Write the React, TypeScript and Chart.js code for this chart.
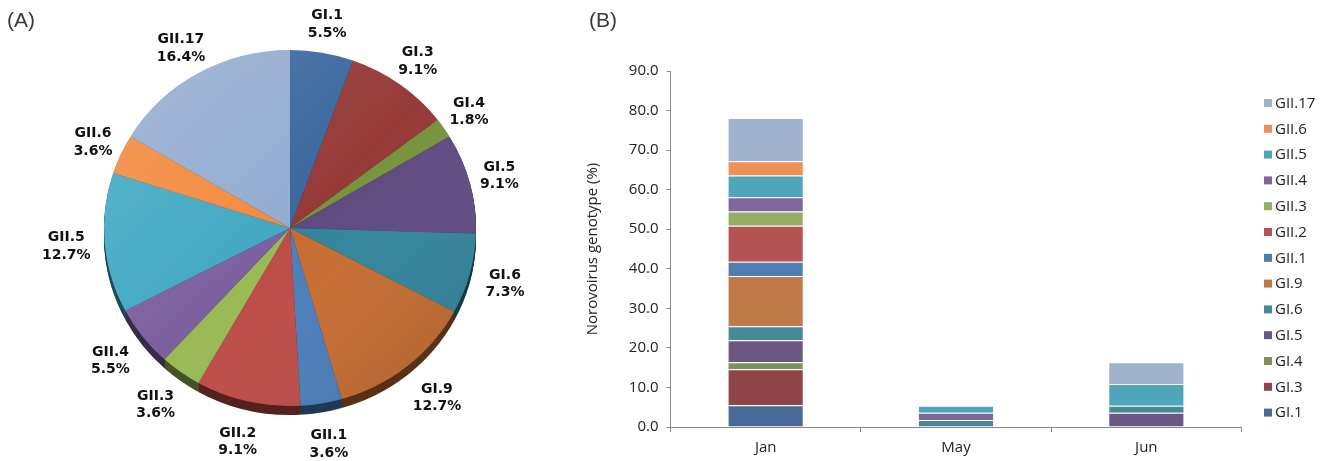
import React, { useEffect, useRef } from "react";
import { Chart, registerables } from "chart.js";

Chart.register(...registerables);

// ---------- data ----------
const genotypes = ["GI.1", "GI.3", "GI.4", "GI.5", "GI.6", "GI.9", "GII.1", "GII.2", "GII.3", "GII.4", "GII.5", "GII.6", "GII.17"];
const piePercents = [5.5, 9.1, 1.8, 9.1, 7.3, 12.7, 3.6, 9.1, 3.6, 5.5, 12.7, 3.6, 16.4];

const months = ["Jan", "May", "Jun"];
const gi1 = [5.5, null, null];
const gi3 = [9.1, null, null];
const gi4 = [1.8, null, null];
const gi5 = [5.5, null, 3.6];
const gi6 = [3.6, 1.8, 1.8];
const gi9 = [12.7, null, null];
const gii1 = [3.6, null, null];
const gii2 = [9.1, null, null];
const gii3 = [3.6, null, null];
const gii4 = [3.6, 1.8, null];
const gii5 = [5.5, 1.8, 5.5];
const gii6 = [3.6, null, null];
const gii17 = [10.9, null, 5.5];
const barSeries = [gi1, gi3, gi4, gi5, gi6, gi9, gii1, gii2, gii3, gii4, gii5, gii6, gii17];

const yMin = 0;
const yMax = 90;
const yStep = 10;
const yTitle = "Norovoirus genotype (%)";

// ---------- styles ----------
const pieColors = ["#3a679d", "#963a38", "#77933c", "#5f4a80", "#31859c", "#c66c30", "#4a7ebb", "#be4b48", "#98b954", "#7d60a0", "#42a8c4", "#f38a3e", "#93acd0"];
const barColors = ["#486a96", "#8f4549", "#7f9155", "#6a5783", "#488997", "#c17a47", "#4f7cb1", "#b65355", "#93ad65", "#7e679c", "#4fa5ba", "#ee8f54", "#9fb2ce"];

const PIE_SCALE_Y = 178 / 186;
const PIE_DEPTH = 9;

function shade(hex: string, f: number): string {
  const n = parseInt(hex.slice(1), 16);
  const r = Math.round(((n >> 16) & 255) * f);
  const g = Math.round(((n >> 8) & 255) * f);
  const b = Math.round((n & 255) * f);
  return `rgb(${r},${g},${b})`;
}

const pie3dPlugin = {
  id: "pie3d",
  beforeDatasetsDraw(chart: any) {
    const ctx = chart.ctx;
    const meta = chart.getDatasetMeta(0);
    if (!meta.data.length) return;
    const { x, y, outerRadius } = meta.data[0] as any;
    ctx.save();
    ctx.translate(x, y);
    ctx.scale(1, PIE_SCALE_Y);
    ctx.translate(-x, -y);
    // side wall
    for (let d = PIE_DEPTH; d >= 1; d--) {
      const off = d / PIE_SCALE_Y;
      meta.data.forEach((arc: any, i: number) => {
        ctx.beginPath();
        ctx.moveTo(x, y + off);
        ctx.arc(x, y + off, outerRadius, arc.startAngle, arc.endAngle);
        ctx.closePath();
        ctx.fillStyle = shade(pieColors[i], 0.45);
        ctx.fill();
      });
    }
  },
  afterDatasetsDraw(chart: any) {
    const ctx = chart.ctx;
    const meta = chart.getDatasetMeta(0);
    if (!meta.data.length) return;
    const { x, y, outerRadius: r } = meta.data[0] as any;
    const g = ctx.createLinearGradient(x - r, y - r, x + r, y + r);
    g.addColorStop(0, "rgba(255,255,255,0.16)");
    g.addColorStop(0.5, "rgba(255,255,255,0)");
    g.addColorStop(1, "rgba(0,0,0,0.16)");
    ctx.beginPath();
    ctx.arc(x, y, r, 0, Math.PI * 2);
    ctx.fillStyle = g;
    ctx.fill();
    ctx.restore();

    // labels
    ctx.save();
    ctx.font = "bold 14px 'DejaVu Sans'";
    ctx.fillStyle = "#111";
    ctx.textAlign = "center";
    ctx.textBaseline = "middle";
    const rx = r;
    const ry = r * PIE_SCALE_Y;
    const gap = 11;
    const lh = 17.5;
    meta.data.forEach((arc: any, i: number) => {
      const mid = (arc.startAngle + arc.endAngle) / 2;
      const c = Math.cos(mid);
      const s = Math.sin(mid);
      const l1 = genotypes[i];
      const l2 = piePercents[i].toFixed(1) + "%";
      const w = Math.max(ctx.measureText(l1).width, ctx.measureText(l2).width);
      const h = lh * 2;
      const lower = s > 0 ? s : 0;
      const extra = 4 * lower;
      const px = x + c * (rx + gap + extra);
      const py = y + s * (ry + gap + extra) + PIE_DEPTH * lower;
      const bx = px + c * (w / 2) + c * 10 * Math.sqrt(lower);
      const by = py + s * (h / 2);
      ctx.fillText(l1, bx, by - lh / 2);
      ctx.fillText(l2, bx, by + lh / 2);
    });
    ctx.restore();
  },
};

const legendPlugin = {
  id: "customLegend",
  afterDraw(chart: any) {
    const ctx = chart.ctx;
    ctx.save();
    ctx.font = "15px 'Open Sans'";
    ctx.textBaseline = "middle";
    ctx.textAlign = "left";
    const x0 = 704;
    const y0 = 103;
    const step = 25.8;
    const n = genotypes.length;
    for (let k = 0; k < n; k++) {
      const i = n - 1 - k;
      const yy = y0 + k * step;
      ctx.fillStyle = barColors[i];
      ctx.fillRect(x0, yy - 4, 8, 8);
      ctx.fillStyle = "#222";
      ctx.fillText(genotypes[i], x0 + 11, yy + 0.5);
    }
    ctx.restore();
  },
};

function PieChart() {
  const ref = useRef<HTMLCanvasElement>(null);
  useEffect(() => {
    if (!ref.current) return;
    const chart = new Chart(ref.current, {
      type: "pie",
      data: {
        labels: genotypes,
        datasets: [
          {
            data: piePercents,
            backgroundColor: pieColors,
            borderWidth: 0,
          },
        ],
      },
      options: {
        responsive: false,
        animation: false,
        rotation: 0,
        layout: { padding: { left: 104, right: 84, top: 42, bottom: 47 } },
        plugins: { legend: { display: false }, tooltip: { enabled: false } },
      },
      plugins: [pie3dPlugin],
    } as any);
    return () => chart.destroy();
  }, []);
  return <canvas ref={ref} width={560} height={461} style={{ position: "absolute", left: 0, top: 0, width: 560, height: 461 }} />;
}

function BarChart() {
  const ref = useRef<HTMLCanvasElement>(null);
  useEffect(() => {
    if (!ref.current) return;
    const font = { family: "'Open Sans'", size: 15 };
    const chart = new Chart(ref.current, {
      type: "bar",
      data: {
        labels: months,
        datasets: barSeries.map((d, i) => ({
          label: genotypes[i],
          data: d,
          backgroundColor: barColors[i],
          borderColor: "rgba(255,255,255,0.3)",
          borderWidth: 1,
          categoryPercentage: 1,
          barPercentage: 0.4,
        })),
      },
      options: {
        responsive: false,
        animation: false,
        layout: { padding: { left: 20, right: 93.5, top: 71, bottom: 0 } },
        plugins: { legend: { display: false }, tooltip: { enabled: false } },
        scales: {
          x: {
            stacked: true,
            afterFit: (s: any) => {
              s.height = 34;
            },
            grid: { offset: true, drawOnChartArea: false, drawTicks: true, tickLength: 5, color: "#8a8a8a" },
            border: { color: "#8a8a8a", width: 1 },
            ticks: { color: "#222", font, padding: 7 },
          },
          y: {
            stacked: true,
            min: yMin,
            max: yMax,
            afterFit: (s: any) => {
              s.width = 90.5;
            },
            grid: { drawOnChartArea: false, drawTicks: true, tickLength: 4, color: "#8a8a8a" },
            border: { color: "#8a8a8a", width: 1 },
            ticks: {
              stepSize: yStep,
              color: "#222",
              font,
              padding: 8,
              callback: (v: any) => Number(v).toFixed(1),
            },
            title: { display: true, text: yTitle, color: "#222", font, padding: { top: 4, bottom: 0 } },
          },
        },
      },
      plugins: [legendPlugin],
    } as any);
    return () => chart.destroy();
  }, []);
  return <canvas ref={ref} width={775} height={461} style={{ position: "absolute", left: 560, top: 0, width: 775, height: 461 }} />;
}

export default function App() {
  const tag: React.CSSProperties = {
    position: "absolute",
    top: 8,
    fontFamily: "'Liberation Sans', Arial, sans-serif",
    fontSize: 21,
    color: "#3a3a3a",
    lineHeight: "24px",
  };
  return (
    <div style={{ position: "fixed", left: 0, top: 0, width: 1335, height: 461, background: "#fff", overflow: "hidden" }}>
      <PieChart />
      <BarChart />
      <div style={{ ...tag, left: 7 }}>(A)</div>
      <div style={{ ...tag, left: 589 }}>(B)</div>
    </div>
  );
}
